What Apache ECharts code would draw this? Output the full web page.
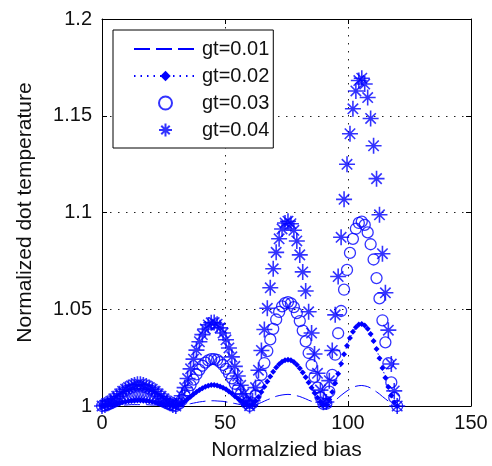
<!DOCTYPE html>
<html>
<head>
<meta charset="utf-8">
<script src="https://cdn.jsdelivr.net/npm/echarts@6/dist/echarts.min.js"></script>
<style>html,body{margin:0;padding:0;background:#fff}#c{width:492px;height:466px}</style>
</head>
<body>
<div id="c"></div>
<script>
const xTicks = [0, 50, 100, 150];
const yTicks = [1, 1.05, 1.1, 1.15, 1.2];
const seriesNames = ['gt=0.01', 'gt=0.02', 'gt=0.03', 'gt=0.04'];
const bias = [0,1.2,2.4,3.6,4.8,6,7.2,8.4,9.6,10.8,12,13.2,14.4,15.6,16.8,18,19.2,20.4,21.6,22.8,24,25.2,26.4,27.6,28.8,30,
31.2,32.4,33.6,34.8,36,37.2,38.4,39.6,40.8,42,43.2,44.4,45.6,46.8,48,49.2,50.4,51.6,52.8,54,55.2,56.4,57.6,58.8,60,
61.2,62.4,63.6,64.8,66,67.2,68.4,69.6,70.8,72,73.2,74.4,75.6,76.8,78,79.2,80.4,81.6,82.8,84,85.2,86.4,87.6,88.8,90,
91.2,92.4,93.6,94.8,96,97.2,98.4,99.6,100.8,102,103.2,104.4,105.6,106.8,108,109.2,110.4,111.6,112.8,114,115.2,116.4,117.6,118.8,120];
const gt01 = [1,1.0000,1.0001,1.0002,1.0002,1.0003,1.0004,1.0005,1.0005,1.0006,1.0007,1.0007,1.0007,1.0007,1.0007,1.0007,1.0006,1.0005,1.0005,1.0004,1.0003,1.0002,1.0002,1.0001,1.0000,1,
1.0001,1.0003,1.0006,1.0009,1.0012,1.0015,1.0018,1.0021,1.0023,1.0025,1.0026,1.0027,1.0027,1.0026,1.0025,1.0024,1.0021,1.0019,1.0016,1.0013,1.0010,1.0007,1.0004,1.0002,1.0000,
1.0002,1.0006,1.0012,1.0018,1.0025,1.0032,1.0038,1.0044,1.0050,1.0054,1.0057,1.0059,1.0060,1.0059,1.0057,1.0053,1.0049,1.0043,1.0037,1.0030,1.0024,1.0017,1.0011,1.0005,1.0001,
1.0001,1.0008,1.0018,1.0029,1.0042,1.0055,1.0067,1.0078,1.0088,1.0096,1.0102,1.0105,1.0106,1.0104,1.0100,1.0093,1.0084,1.0073,1.0062,1.0049,1.0037,1.0025,1.0014,1.0005,1];
const gt02 = [1,1.0001,1.0004,1.0006,1.0009,1.0013,1.0016,1.0019,1.0022,1.0024,1.0026,1.0027,1.0028,1.0028,1.0027,1.0026,1.0024,1.0022,1.0019,1.0016,1.0013,1.0009,1.0006,1.0004,1.0001,1,
1.0005,1.0013,1.0024,1.0036,1.0048,1.0061,1.0072,1.0083,1.0092,1.0100,1.0105,1.0108,1.0108,1.0106,1.0101,1.0094,1.0086,1.0075,1.0064,1.0051,1.0039,1.0027,1.0016,1.0007,1.0001,
1.0007,1.0024,1.0046,1.0072,1.0099,1.0126,1.0153,1.0177,1.0199,1.0216,1.0229,1.0237,1.0239,1.0236,1.0227,1.0213,1.0195,1.0173,1.0149,1.0122,1.0094,1.0067,1.0042,1.0021,1.0005,
1.0005,1.0033,1.0072,1.0118,1.0167,1.0218,1.0267,1.0312,1.0352,1.0384,1.0407,1.0421,1.0424,1.0416,1.0399,1.0372,1.0336,1.0294,1.0247,1.0197,1.0146,1.0098,1.0054,1.0020,1];
const gt03 = [1,1.0003,1.0008,1.0014,1.0021,1.0028,1.0035,1.0043,1.0049,1.0054,1.0059,1.0061,1.0063,1.0063,1.0061,1.0059,1.0054,1.0049,1.0043,1.0035,1.0028,1.0021,1.0014,1.0008,1.0003,1,
1.0011,1.0030,1.0053,1.0080,1.0108,1.0136,1.0163,1.0187,1.0208,1.0224,1.0236,1.0242,1.0242,1.0238,1.0227,1.0212,1.0192,1.0169,1.0143,1.0115,1.0087,1.0060,1.0035,1.0015,1.0001,
1.0015,1.0053,1.0104,1.0161,1.0222,1.0284,1.0344,1.0399,1.0447,1.0486,1.0515,1.0532,1.0537,1.0530,1.0511,1.0480,1.0439,1.0390,1.0334,1.0274,1.0212,1.0151,1.0095,1.0046,1.0011,
1.0012,1.0074,1.0161,1.0265,1.0376,1.0491,1.0601,1.0703,1.0791,1.0864,1.0916,1.0946,1.0953,1.0936,1.0897,1.0836,1.0757,1.0661,1.0556,1.0443,1.0329,1.0221,1.0122,1.0044,1];
const gt04 = [1,1.0005,1.0014,1.0025,1.0037,1.0050,1.0063,1.0076,1.0087,1.0096,1.0104,1.0109,1.0112,1.0112,1.0109,1.0104,1.0096,1.0087,1.0076,1.0063,1.0050,1.0037,1.0025,1.0014,1.0005,1,
1.0019,1.0053,1.0095,1.0142,1.0192,1.0242,1.0289,1.0332,1.0369,1.0398,1.0419,1.0430,1.0431,1.0423,1.0404,1.0377,1.0342,1.0300,1.0254,1.0205,1.0155,1.0107,1.0063,1.0026,1.0002,
1.0027,1.0095,1.0185,1.0287,1.0395,1.0505,1.0611,1.0709,1.0794,1.0864,1.0915,1.0946,1.0955,1.0942,1.0908,1.0853,1.0781,1.0693,1.0594,1.0487,1.0377,1.0269,1.0169,1.0082,1.0019,
1.0021,1.0131,1.0287,1.0471,1.0669,1.0872,1.1068,1.1249,1.1407,1.1536,1.1628,1.1682,1.1694,1.1664,1.1594,1.1486,1.1345,1.1175,1.0988,1.0787,1.0585,1.0392,1.0217,1.0078,1];

const BLUE = '#0000ff';
const FONT = 'Liberation Sans, Arial, Helvetica, sans-serif';
const pairs = arr => bias.map((x, i) => [x, arr[i]]);
const STAR = 'path://M0,10L20,10M10,0L10,20M3.5,3.5L16.5,16.5M16.5,3.5L3.5,16.5';

const chart = echarts.init(document.getElementById('c'), null, {renderer: 'canvas'});
const gridLine = {show: true, lineStyle: {color: '#222', width: 1, type: [1.5, 6.5]}};
const mirror = {show: true, inside: true, length: 5, lineStyle: {color: '#000'}};
chart.setOption({
  animation: false,
  backgroundColor: '#fff',
  textStyle: {fontFamily: FONT},
  grid: {left: 102, top: 19, width: 369, height: 391, containLabel: false},
  legend: {
    orient: 'vertical', left: 113, top: 30,
    padding: [9, 4, 8, 20], itemGap: 7, itemWidth: 63, itemHeight: 13,
    backgroundColor: '#fff', borderColor: '#000', borderWidth: 1, borderRadius: 0,
    textStyle: {fontSize: 20, lineHeight: 20, color: '#111', fontFamily: FONT},
    data: [
      {name: seriesNames[0], itemStyle: {color: 'rgba(0,0,0,0)', borderWidth: 0}},
      seriesNames[1], seriesNames[2], seriesNames[3]
    ]
  },
  xAxis: [{
    type: 'value', min: xTicks[0], max: xTicks[xTicks.length - 1], interval: 50,
    name: 'Normalzied bias', nameLocation: 'middle', nameGap: 34,
    nameTextStyle: {fontSize: 21, color: '#111', fontFamily: FONT},
    axisLine: {show: true, onZero: false, lineStyle: {color: '#000', width: 1}},
    axisTick: mirror,
    axisLabel: {fontSize: 20, color: '#111', margin: 7, fontFamily: FONT},
    splitLine: gridLine
  }, {
    type: 'value', position: 'top', min: 0, max: 150, interval: 50,
    axisLine: {show: true, onZero: false, lineStyle: {color: '#000', width: 1}},
    axisTick: mirror, axisLabel: {show: false}, splitLine: {show: false}
  }],
  yAxis: [{
    type: 'value', min: yTicks[0], max: yTicks[yTicks.length - 1], interval: 0.05,
    name: 'Normalized dot temperature', nameLocation: 'middle', nameGap: 66,
    nameTextStyle: {fontSize: 21, color: '#111', fontFamily: FONT},
    axisLine: {show: true, onZero: false, lineStyle: {color: '#000', width: 1}},
    axisTick: mirror,
    axisLabel: {fontSize: 20, color: '#111', margin: 10, fontFamily: FONT},
    splitLine: gridLine
  }, {
    type: 'value', position: 'right', min: 1, max: 1.2, interval: 0.05,
    axisLine: {show: true, onZero: false, lineStyle: {color: '#000', width: 1}},
    axisTick: mirror, axisLabel: {show: false}, splitLine: {show: false}
  }],
  series: [{
    name: seriesNames[0], type: 'line', data: pairs(gt01), clip: false,
    symbol: 'none', lineStyle: {color: BLUE, width: 1, type: [16, 6]}, itemStyle: {color: BLUE}
  }, {
    name: seriesNames[1], type: 'line', data: pairs(gt02), clip: false,
    symbol: 'diamond', symbolSize: 6, showSymbol: true, showAllSymbol: true,
    lineStyle: {color: BLUE, width: 1, type: [1.5, 5]}, itemStyle: {color: BLUE}
  }, {
    name: seriesNames[2], type: 'scatter', data: pairs(gt03), clip: false,
    symbol: 'circle', symbolSize: 11,
    itemStyle: {color: 'rgba(0,0,0,0)', borderColor: BLUE, borderWidth: 1.3}
  }, {
    name: seriesNames[3], type: 'scatter', data: pairs(gt04), clip: false,
    symbol: STAR, symbolSize: 16,
    itemStyle: {color: 'rgba(0,0,0,0)', borderColor: BLUE, borderWidth: 1.6}
  }]
});
</script>
</body>
</html>
